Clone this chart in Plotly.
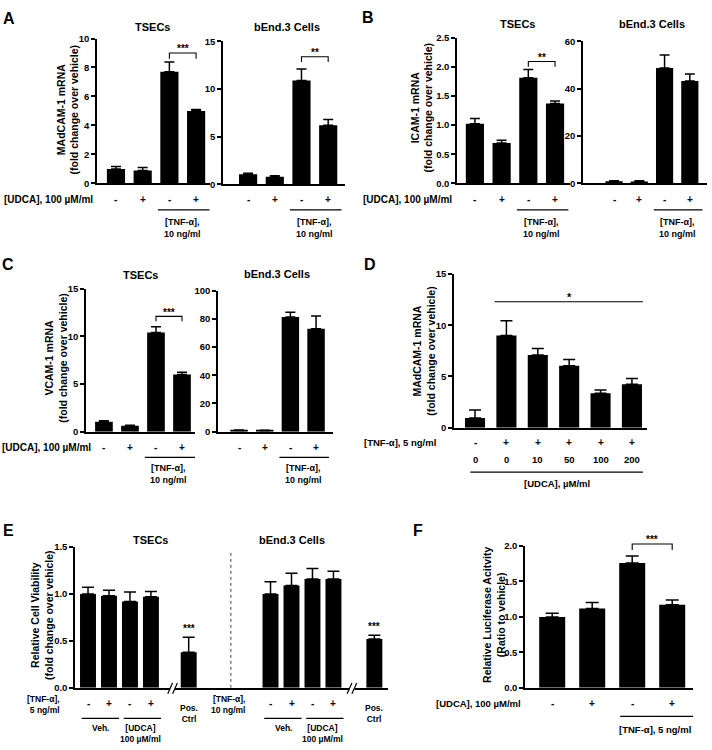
import plotly.graph_objects as go

W, H = 712, 750
FONT = "Liberation Sans, Arial, Helvetica, sans-serif"

# ---------------- data ----------------
udca_signs = ["-", "+", "-", "+"]

a_tsec_vals = [1.0, 0.88, 7.7, 5.0]
a_tsec_err = [0.16, 0.22, 0.68, 0.1]
a_bend_vals = [1.06, 0.8, 10.9, 6.2]
a_bend_err = [0.1, 0.09, 1.2, 0.62]

b_tsec_vals = [1.02, 0.69, 1.81, 1.37]
b_tsec_err = [0.09, 0.05, 0.14, 0.04]
b_bend_vals = [0.9, 0.8, 48.8, 43.3]
b_bend_err = [0.25, 0.35, 5.5, 2.9]

c_tsec_vals = [1.04, 0.62, 10.4, 6.0]
c_tsec_err = [0.1, 0.05, 0.62, 0.24]
c_bend_vals = [0.9, 0.7, 81.3, 73.1]
c_bend_err = [0.3, 0.3, 3.5, 8.9]

d_tnf_signs = ["-", "+", "+", "+", "+", "+"]
d_udca_doses = ["0", "0", "10", "50", "100", "200"]
d_vals = [0.95, 9.0, 7.1, 6.05, 3.37, 4.25]
d_err = [0.77, 1.45, 0.64, 0.6, 0.32, 0.55]

e_tnf_signs = ["-", "+", "-", "+"]
e_tsec_vals = [1.0, 0.98, 0.92, 0.97]
e_tsec_err = [0.07, 0.06, 0.1, 0.055]
e_tsec_pos = [0.38]
e_tsec_pos_err = [0.16]
e_bend_vals = [1.0, 1.09, 1.16, 1.16]
e_bend_err = [0.13, 0.13, 0.11, 0.08]
e_bend_pos = [0.52]
e_bend_pos_err = [0.04]

f_vals = [1.0, 1.12, 1.76, 1.17]
f_err = [0.05, 0.083, 0.1, 0.07]

# ---------------- helpers ----------------
fig = go.Figure()
annots = []
shapes = []

TICK_SIZE = 9.5
LABEL_SIZE = 9.5
TITLE_SIZE = 11
YTITLE_SIZE = 10.5


def px(x):
    return x / W


def py(y):
    return 1 - y / H


def setup_axes(n, left, right, top, bottom, xr, yr, dtick, fmt):
    s = "" if n == 1 else str(n)
    fig.update_layout(**{
        "xaxis" + s: dict(domain=[px(left), px(right)], range=xr, anchor="y" + s,
                          showline=True, linecolor="black", linewidth=1.5,
                          ticks="", showticklabels=False, showgrid=False,
                          zeroline=False, fixedrange=True),
        "yaxis" + s: dict(domain=[py(bottom), py(top)], range=yr, anchor="x" + s,
                          showline=True, linecolor="black", linewidth=1.5,
                          ticks="outside", ticklen=4, tickwidth=1.5,
                          tickcolor="black", tick0=0, dtick=dtick,
                          tickformat=fmt, showgrid=False, zeroline=False,
                          fixedrange=True,
                          tickfont=dict(family=FONT, size=TICK_SIZE,
                                        color="black", weight="bold")),
    })
    return "x" + s, "y" + s


def bars(xa, ya, xs, vals, errs, width, cap):
    fig.add_trace(go.Bar(
        x=xs, y=vals, width=width,
        marker=dict(color="black", line=dict(width=0)),
        error_y=dict(type="data", symmetric=False, array=errs,
                     arrayminus=[0] * len(vals), color="black",
                     thickness=1.5, width=cap),
        xaxis=xa, yaxis=ya, showlegend=False, hoverinfo="skip"))


def text(t, x, y, xref="paper", yref="paper", size=LABEL_SIZE,
         xanchor="center", yanchor="middle", angle=0, yshift=0,
         align="center"):
    annots.append(dict(text=t, x=x, y=y, xref=xref, yref=yref,
                       showarrow=False, xanchor=xanchor, yanchor=yanchor,
                       textangle=angle, yshift=yshift, align=align,
                       font=dict(family=FONT, size=size, color="black",
                                 weight="bold")))


def hline(xref, x0, x1, ypix, width=1.2):
    shapes.append(dict(type="line", xref=xref, yref="paper", x0=x0, x1=x1,
                       y0=py(ypix), y1=py(ypix),
                       line=dict(color="black", width=width)))


def bracket(xa, ya, x0, x1, y, drop, label):
    shapes.append(dict(type="path", xref=xa, yref=ya,
                       path=f"M {x0},{y - drop} L {x0},{y} L {x1},{y} L {x1},{y - drop}",
                       line=dict(color="black", width=1.1)))
    text(label, (x0 + x1) / 2, y, xref=xa, yref=ya, size=10, yshift=4)


def bracket_px(xa, x0, x1, ypix, drop_px, label):
    # bracket placed in page pixels (it sits at/above the axis top)
    shapes.append(dict(type="path", xref=xa, yref="paper",
                       path=(f"M {x0},{py(ypix + drop_px)} L {x0},{py(ypix)} "
                             f"L {x1},{py(ypix)} L {x1},{py(ypix + drop_px)}"),
                       line=dict(color="black", width=1.1)))
    text(label, (x0 + x1) / 2, py(ypix), xref=xa, size=10, yshift=4)


def ytitle(t, xpix, ypix):
    text(t, px(xpix), py(ypix), size=YTITLE_SIZE, angle=-90)


def four_panel_labels(xa, row_y, line_y, tnf_y):
    for i, s in enumerate(udca_signs):
        text(s, i, py(row_y), xref=xa, size=10)
    hline(xa, 1.57, 3.5, line_y)
    text("[TNF-α],<br>10 ng/ml", 2.5, py(tnf_y), xref=xa, size=9)


idx4 = list(range(4))

# ---------------- Panel A ----------------
xa, ya = setup_axes(1, 97, 210, 33, 180, [-0.71, 3.52], [0, 10], 2, "d")
bars(xa, ya, idx4, a_tsec_vals, a_tsec_err, 0.68, 5)
bracket(xa, ya, 2, 3, 9.0, 0.4, "***")
four_panel_labels(xa, 196, 207, 225)
text("TSECs", px(152), py(21), size=TITLE_SIZE)

xa, ya = setup_axes(2, 223, 345, 36, 181, [-0.94, 3.63], [0, 15], 5, "d")
bars(xa, ya, idx4, a_bend_vals, a_bend_err, 0.68, 5)
bracket(xa, ya, 2, 3, 13.4, 0.55, "**")
four_panel_labels(xa, 196, 207, 225)
text("bEnd.3 Cells", px(287), py(21), size=TITLE_SIZE)

text("[UDCA], 100 µM/ml", px(2), py(196), size=10, xanchor="left")
ytitle("MAdCAM-1 mRNA<br>(fold change over vehicle)", 68, 105)
text("A", px(9), py(13), size=16)

# ---------------- Panel B ----------------
xa, ya = setup_axes(3, 457, 570, 32, 180, [-0.67, 3.56], [0, 2.5], 0.5, ".1f")
bars(xa, ya, idx4, b_tsec_vals, b_tsec_err, 0.68, 5)
bracket(xa, ya, 2, 3, 2.09, 0.09, "**")
four_panel_labels(xa, 196, 207, 225)
text("TSECs", px(517), py(18), size=TITLE_SIZE)

xa, ya = setup_axes(4, 583, 707, 36, 180, [-1.23, 3.68], [0, 60], 20, "d")
bars(xa, ya, idx4, b_bend_vals, b_bend_err, 0.68, 5)
four_panel_labels(xa, 196, 207, 225)
text("bEnd.3 Cells", px(652), py(18), size=TITLE_SIZE)

text("[UDCA], 100 µM/ml", px(361), py(196), size=10, xanchor="left")
ytitle("ICAM-1 mRNA<br>(fold change over vehicle)", 422, 103)
text("B", px(368), py(12), size=16)

# ---------------- Panel C ----------------
xa, ya = setup_axes(5, 86, 195, 287, 432, [-0.69, 3.5], [0, 15], 5, "d")
bars(xa, ya, idx4, c_tsec_vals, c_tsec_err, 0.68, 5)
bracket(xa, ya, 2, 3, 12.1, 0.5, "***")
four_panel_labels(xa, 448, 458, 475)
text("TSECs", px(140), py(273), size=TITLE_SIZE)

xa, ya = setup_axes(6, 218, 333, 289, 432, [-0.82, 3.66], [0, 100], 20, "d")
bars(xa, ya, idx4, c_bend_vals, c_bend_err, 0.68, 5)
four_panel_labels(xa, 448, 458, 475)
text("bEnd.3 Cells", px(277), py(272), size=TITLE_SIZE)

text("[UDCA], 100 µM/ml", px(0), py(448), size=10, xanchor="left")
ytitle("VCAM-1 mRNA<br>(fold change over vehicle)", 56, 357)
text("C", px(8), py(262), size=16)

# ---------------- Panel D ----------------
xa, ya = setup_axes(7, 454, 647, 272, 428, [-0.67, 5.48], [0, 15], 5, "d")
idx6 = list(range(6))
bars(xa, ya, idx6, d_vals, d_err, 0.64, 6)
shapes.append(dict(type="line", xref=xa, yref=ya, x0=0.62, x1=5.35, y0=12.3,
                   y1=12.3, line=dict(color="black", width=1.1)))
text("*", 3, 12.3, xref=xa, yref=ya, size=11, yshift=5)
for i in idx6:
    text(d_tnf_signs[i], i, py(443), xref=xa, size=10)
    text(d_udca_doses[i], i, py(460), xref=xa, size=9.5)
hline(xa, -0.15, 5.35, 473)
text("[UDCA], µM/ml", 2.6, py(485), xref=xa, size=9.5)
text("[TNF-α], 5 ng/ml", px(362), py(443), size=9.5, xanchor="left")
ytitle("MAdCAM-1 mRNA<br>(fold change over vehicle)", 424, 350)
text("D", px(370), py(262), size=16)

# ---------------- Panel E ----------------
xa, ya = setup_axes(8, 75, 388, 549, 692, [-0.62, 14.3], [0, 1.5], 0.5, ".1f")
e_tsec_x = [0, 1, 2, 3]
e_tsec_pos_x = [4.8]
e_bend_x = [8.7, 9.7, 10.7, 11.7]
e_bend_pos_x = [13.65]
bars(xa, ya, e_tsec_x, e_tsec_vals, e_tsec_err, 0.76, 6)
bars(xa, ya, e_tsec_pos_x, e_tsec_pos, e_tsec_pos_err, 0.76, 6)
bars(xa, ya, e_bend_x, e_bend_vals, e_bend_err, 0.76, 6)
bars(xa, ya, e_bend_pos_x, e_bend_pos, e_bend_pos_err, 0.76, 6)
text("***", e_tsec_pos_x[0], e_tsec_pos[0] + e_tsec_pos_err[0], xref=xa, yref=ya,
     size=10, yshift=9)
text("***", e_bend_pos_x[0], e_bend_pos[0] + e_bend_pos_err[0], xref=xa, yref=ya,
     size=10, yshift=9)
# dotted separator
shapes.append(dict(type="line", xref=xa, yref=ya, x0=6.81, x1=6.81, y0=0,
                   y1=1.47, line=dict(color="#444444", width=1, dash="dot")))
# axis breaks
for c in [4.05, 12.6]:
    shapes.append(dict(type="rect", xref=xa, yref="paper", x0=c - 0.14,
                       x1=c + 0.1, y0=py(696), y1=py(688),
                       fillcolor="white", line=dict(width=0)))
    for off in [-0.25, -0.02]:
        shapes.append(dict(type="line", xref=xa, yref="paper", x0=c + off,
                           x1=c + off + 0.23, y0=py(698), y1=py(687),
                           line=dict(color="black", width=1.2)))
for grp_x, grp_pos, tnf_right, dose in [(e_tsec_x, e_tsec_pos_x, 62, "5 ng/ml"),
                                        (e_bend_x, e_bend_pos_x, 247, "10 ng/ml")]:
    for i, s in enumerate(e_tnf_signs):
        text(s, grp_x[i], py(708), xref=xa, size=10)
    hline(xa, grp_x[0] - 0.3, grp_x[1] + 0.48, 723)
    hline(xa, grp_x[2] - 0.3, grp_x[3] + 0.48, 723)
    text("Veh.", (grp_x[0] + grp_x[1]) / 2 + 0.1, py(733), xref=xa, size=8.5)
    text("[UDCA]<br>100 µM/ml", (grp_x[2] + grp_x[3]) / 2, py(738), xref=xa,
         size=8.5)
    text("Pos.<br>Ctrl", grp_pos[0], py(718), xref=xa, size=8.5)
    text("[TNF-α],<br>" + dose, px(tnf_right), py(708.5), size=8.5,
         xanchor="right", align="right")
text("TSECs", px(150), py(542), size=TITLE_SIZE)
text("bEnd.3 Cells", px(292), py(542), size=TITLE_SIZE)
ytitle("Relative Cell Viability<br>(fold change over vehicle)", 42, 618)
text("E", px(8), py(532), size=16)

# ---------------- Panel F ----------------
xa, ya = setup_axes(9, 525, 693, 548, 692, [-0.68, 3.52], [0, 2], 0.5, ".1f")
bars(xa, ya, idx4, f_vals, f_err, 0.65, 6.5)
bracket_px(xa, 2, 3, 546, 6, "***")
for i, s in enumerate(udca_signs):
    text(s, i, py(708), xref=xa, size=10)
hline(xa, 1.7, 3.53, 721)
text("[TNF-α], 5 ng/ml", 2.58, py(734), xref=xa, size=9.5)
text("[UDCA], 100 µM/ml", px(523), py(708), size=9.5, xanchor="right")
ytitle("Relative Luciferase Acitvity<br>(Ratio to vehicle)", 494, 618)
text("F", px(418), py(532), size=16)

fig.update_layout(
    width=W, height=H,
    margin=dict(l=0, r=0, t=0, b=0),
    paper_bgcolor="white", plot_bgcolor="white",
    barmode="overlay", showlegend=False,
    font=dict(family=FONT, color="black"),
    annotations=annots, shapes=shapes,
)

fig.write_html("out.html",
               config={"displayModeBar": False},
               post_script="document.body.style.margin='0px';"
                           "document.body.style.overflow='hidden';")
